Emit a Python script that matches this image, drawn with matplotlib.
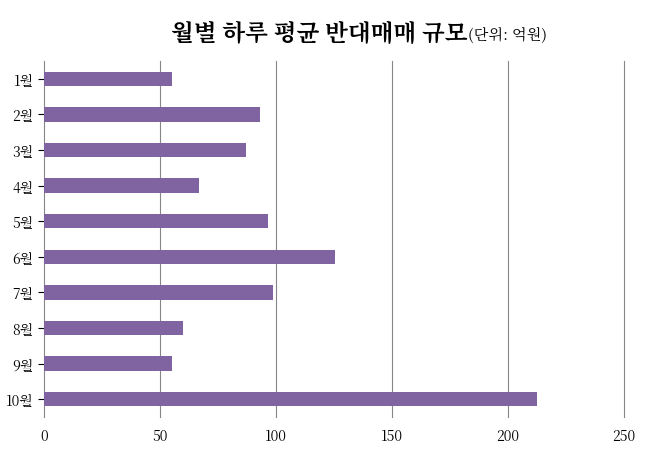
import matplotlib.pyplot as plt
from matplotlib import font_manager

# pick whichever CJK family is actually registered
cjk = [f.name for f in font_manager.fontManager.ttflist if 'CJK' in f.name]
kr = [n for n in cjk if 'KR' in n] or cjk
plt.rcParams['font.family'] = [kr[0] if kr else 'Noto Sans CJK KR', 'DejaVu Sans']

months = ['1월', '2월', '3월', '4월', '5월', '6월', '7월', '8월', '9월', '10월']
values = [55, 93, 87, 67, 96.5, 125.5, 98.5, 60, 55, 212.5]
xticks = [0, 50, 100, 150, 200, 250]

fig = plt.figure(figsize=(6.58, 4.52), dpi=100)
ax = fig.add_axes([44 / 658, 1 - 418 / 452, 580 / 658, 356 / 452])

ypos = list(range(len(months)))[::-1]
ax.barh(ypos, values, height=0.4, color='#8064A2', zorder=3)
ax.set_xlim(0, 250)
ax.set_ylim(-0.5, len(months) - 0.5)
ax.set_xticks(xticks)
ax.set_yticks(ypos)
ax.set_yticklabels(months, fontsize=10)
ax.tick_params(axis='x', labelsize=10, length=0, pad=8)
ax.tick_params(axis='y', length=4)
for x in xticks[1:]:
    ax.axvline(x, color='#868686', linewidth=0.8, zorder=0, clip_on=False)
for s in ['top', 'right', 'bottom']:
    ax.spines[s].set_visible(False)
ax.spines['left'].set_color('#868686')

fig.text(0.71, 0.925, '월별 하루 평균 반대매매 규모', fontsize=17, fontweight='bold',
         ha='right', va='center')
fig.text(0.712, 0.922, '(단위: 억원)', fontsize=11, ha='left', va='center')

fig.savefig('out.png', dpi=100)
